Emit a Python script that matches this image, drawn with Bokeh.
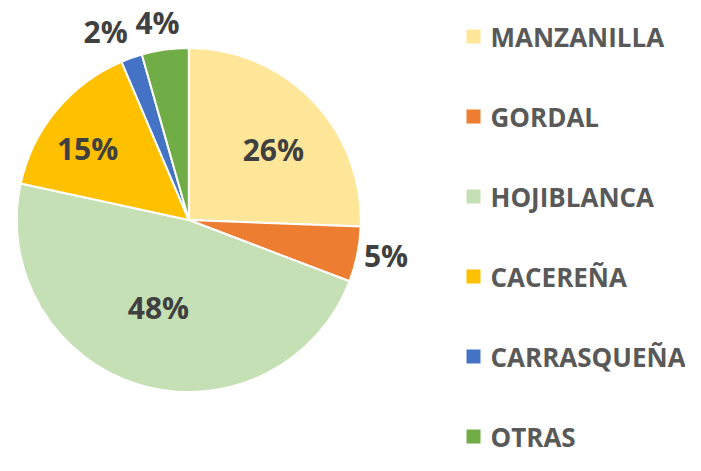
import math
from bokeh.plotting import figure
from bokeh.models import ColumnDataSource
from bokeh.core.properties import value
from bokeh.embed import file_html
from bokeh.resources import INLINE

# ---- data ----
categories = ["MANZANILLA", "GORDAL", "HOJIBLANCA", "CACEREÑA", "CARRASQUEÑA", "OTRAS"]
shares = [25.6, 5.2, 47.6, 15.2, 2.0, 4.4]
colors = ["#FFE699", "#ED7D31", "#C5E0B4", "#FFC000", "#4472C4", "#70AD47"]

# ---- layout ----
W, H = 685, 455
cx, cy = 188.3, H - 219.5
R = 172
label_r = [0.64, 1.165, 0.54, 0.72, 1.2, 1.16]
label_da = [4.1, -1.3, 2.5, -4.4, -4.3, -1.1]  # degrees, label placement nudge

total = sum(shares)
starts, ends, lx, ly, labels = [], [], [], [], []
cum = 0.0
for i, s in enumerate(shares):
    a0 = cum / total * 2 * math.pi
    cum += s
    a1 = cum / total * 2 * math.pi
    starts.append(math.pi / 2 - a0)
    ends.append(math.pi / 2 - a1)
    mid = (a0 + a1) / 2 + math.radians(label_da[i])
    lx.append(cx + math.sin(mid) * R * label_r[i])
    ly.append(cy + math.cos(mid) * R * label_r[i])
    labels.append(f"{round(s / total * 100)}%")

src = ColumnDataSource(dict(start=starts, end=ends, color=colors, lx=lx, ly=ly, label=labels))

p = figure(width=W, height=H, x_range=(0, W), y_range=(0, H),
           output_backend="svg", toolbar_location=None, min_border=0)
p.axis.visible = False
p.grid.visible = False
p.outline_line_color = None
p.background_fill_color = "white"
p.border_fill_color = "white"

p.wedge(x=cx, y=cy, radius=R, start_angle="start", end_angle="end", direction="clock",
        fill_color="color", line_color="white", line_width=2, source=src)

p.text(x="lx", y="ly", text="label", source=src, text_font=value("Open Sans"),
       text_font_style="bold", text_font_size="30px", text_color="#404040",
       text_align="center", text_baseline="middle")

# legend
leg_x_sq, leg_x_txt = 473, 490
leg_y0, leg_dy = H - 36, 80
ly_leg = [leg_y0 - i * leg_dy for i in range(len(categories))]
lsrc = ColumnDataSource(dict(y=ly_leg, color=colors, name=categories))
p.rect(x=leg_x_sq, y="y", width=14, height=14, fill_color="color", line_color=None, source=lsrc)
p.text(x=leg_x_txt, y="y", text="name", source=lsrc, text_font=value("Open Sans"),
       text_font_style="bold", text_font_size="26px", text_color="#595959",
       text_align="left", text_baseline="middle")

open("out.html", "w").write(file_html(p, INLINE))
